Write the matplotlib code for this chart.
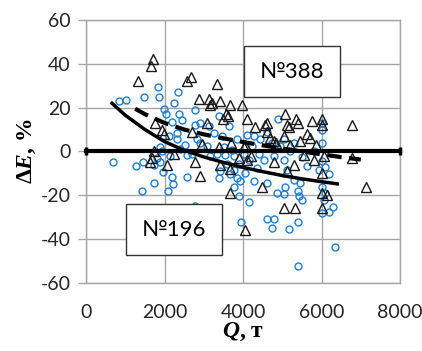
import numpy as np
import matplotlib
matplotlib.use("Agg")
import matplotlib.pyplot as plt

# --- data ---
# No.196 (blue circles)
c196_x = [687, 831, 1027, 1281, 1442, 1425, 1468, 1722, 1833, 1740, 1800, 1934, 1875, 1960, 1977, 2045, 1892,
          1850,
          2231, 2333, 2358, 2189, 2316, 2443, 2189, 2214, 2087, 2571, 2766, 2783, 2783, 2910, 2910, 2316, 2528,
          2571, 2146, 2400, 2825, 2698, 2104,
          3249, 3385, 3122, 3385, 3588, 3758, 3843, 3902, 3928, 3945, 3164, 3334, 3461, 3631, 3716, 3758, 3843,
          3503, 3885, 3419, 3758, 3673, 3080, 3546,
          4013, 4098, 4267, 4437, 4267, 4140, 4607, 4607, 4734, 4794, 4862, 4900, 4395, 4522, 4140, 4225, 4607,
          4734, 4352, 4055, 4777, 4946,
          5031, 5074, 5159, 5397, 5397, 5414, 5397, 5455, 5031, 5031, 5200, 5285, 5117, 5498, 5625, 5795, 5922,
          5498, 5285,
          6007, 6007, 6007, 6007, 6092, 6177, 6007, 6007, 6177, 6304, 6346, 6050, 6092]
c196_y = [-5, 23, 23.5, -6.5, -5, -18, 25, -14.5, 29.5, -6, -3, 0, 2, -9.5, 19.5, 17, -5,
          25,
          22, 27, 17, 13.5, 8.5, 14.5, -11.5, -15, -18, -11.5, -25, 19, 12, 13, 4, 5.5, 3,
          -1.5, -2, 1, 5.5, -1, 7,
          8.5, 16, 11.5, -12, -5.5, -16, -12, -20.5, -13.5, -32, -2, -1, 7, 11.5, 0.5, -2, 5.5,
          2, -5.5, -9, -8.5, -10.5, 2.5, -1.5,
          -1, 7.5, 7, 5.5, -13.5, -23, -14.5, -31, -35, -31, -19, 15, -1, -4, -4, 2.5, 9,
          4, -7.5, -10, -2, 2.5,
          -19.5, -16, -35.5, -52.5, -32, -20.5, -18, -14.5, 5.5, -4, 0, 4, -8.5, -2.5, -6.5, 0, -8.5,
          -22, -13,
          4, 10, 13, -4.5, -7, -10.5, -16, -28, -27.5, -25.5, -43.5, -22, -19]

# No.388 (black triangles)
t388_x = [1323, 1697, 1654, 1765, 1722, 1637, 1680, 1977, 2061, 1935,
          2231, 2571, 2672, 2698, 2783, 2910, 2884, 2960, 3079, 3122,
          3164, 3210, 3334, 3419, 3385, 3420, 3571, 3500, 3620, 3656, 3673, 3673, 3700,
          3970, 4013, 4055, 4098, 4098, 4060, 3900, 4200, 4310, 4480, 4560, 4607, 4620, 4680,
          4777, 4777, 4850, 5031, 5074, 5117, 5117, 5031, 5160, 5200, 5285, 5327, 5354, 5400,
          5455, 5540, 5625, 5753, 5795, 5700, 5850, 6007, 6007, 6007, 6007, 6134, 6007, 6050,
          6787, 6770, 7127]
t388_y = [32, 42, 39, 13, 0, -5, -3, 8, -6, 10,
          -1, 32, 34, 9, -5, -11, 24, 3.5, 13, 24,
          21, 22, 31, 23, 2, -6, 17, 15, 16, 21, -8, -19, 4,
          21, 2, -36, 15, -4, 3, -3, -2, 11, -16, 12, 13, 9, 6,
          5, -5, 4, 7, 17, 12, -9, -26, 11, 3, -6, -26, 15, 13,
          5, -1.5, 8, 14, -4, 6, 3, 15, 12, -10, -19, -20, -26, -2,
          12, -3, -16]

# trend lines
trend196_x = [660, 1000, 1500, 2000, 2500, 3000, 3500, 4000, 4500, 5000, 5500, 6000, 6400]
trend196_y = [22, 16.5, 10, 4.5, 0.5, -2.5, -5, -7.3, -9.2, -11, -12.5, -13.8, -14.8]
trend388_x = [1250, 1500, 2000, 2500, 3000, 3500, 4000, 4500, 5000, 5500, 6000, 6500, 7000]
trend388_y = [19.5, 17, 13, 10, 7.8, 6, 4.3, 2.8, 1.3, 0, -1.3, -2.6, -3.7]

zero_x = [0, 8000]
zero_y = [0, 0]

x_ticks = [0, 2000, 4000, 6000, 8000]
y_ticks = [-60, -40, -20, 0, 20, 40, 60]

plt.rcParams["axes.unicode_minus"] = False
plt.rcParams["mathtext.fontset"] = "custom"
plt.rcParams["mathtext.rm"] = "Liberation Serif:bold"
plt.rcParams["mathtext.bfit"] = "Liberation Serif:italic:bold"

fig = plt.figure(figsize=(4.22, 3.51), dpi=100)
ax = fig.add_axes([0.204, 0.194, 0.744, 0.749])

grid_c = "#a6a6a6"
ax.set_xlim(0, 8000)
ax.set_ylim(-60, 60)
ax.set_xticks(x_ticks)
ax.set_yticks(y_ticks)
ax.grid(True, color=grid_c, linewidth=1)
ax.set_axisbelow(True)
for s in ax.spines.values():
    s.set_color(grid_c)
    s.set_linewidth(1)
ax.tick_params(colors=grid_c, width=1, labelcolor="#262626", labelsize=14)
ax.tick_params(axis="y", length=6, pad=5)
ax.tick_params(axis="x", length=0, pad=15)
for lab in ax.get_xticklabels() + ax.get_yticklabels():
    lab.set_fontfamily("Lato")

ax.plot(c196_x, c196_y, "o", ms=5, mfc="none", mec="#1f7fd4", mew=1.0, zorder=3)
ax.plot(t388_x, t388_y, "^", ms=7.5, mfc="none", mec="#1a1a1a", mew=1.0, zorder=4)

ax.plot(zero_x, zero_y, color="black", lw=3, marker="|", ms=6, mew=2.5, zorder=5, clip_on=False)
ax.plot(trend196_x, trend196_y, color="black", lw=2.5, zorder=6)
ax.plot(trend388_x, trend388_y, color="black", lw=3, dashes=(3.5, 1.8), zorder=6)

box = dict(boxstyle="square,pad=0.7", facecolor="white", edgecolor="#333333", linewidth=1)
ax.text(5240, 36.3, "№388", fontsize=16, family="Lato", ha="center", va="center", bbox=box, zorder=8)
ax.text(2244, -35.8, "№196", fontsize=16, family="Lato", ha="center", va="center", bbox=box, zorder=8)

ax.set_ylabel(r"$\Delta\mathbfit{E}$, %", fontsize=17, family="Liberation Serif", fontweight="bold", labelpad=2)
ax.set_xlabel(r"$\mathbfit{Q}$, т", fontsize=17, family="Liberation Serif", fontweight="bold", labelpad=0)

fig.savefig("out.png", dpi=100)
